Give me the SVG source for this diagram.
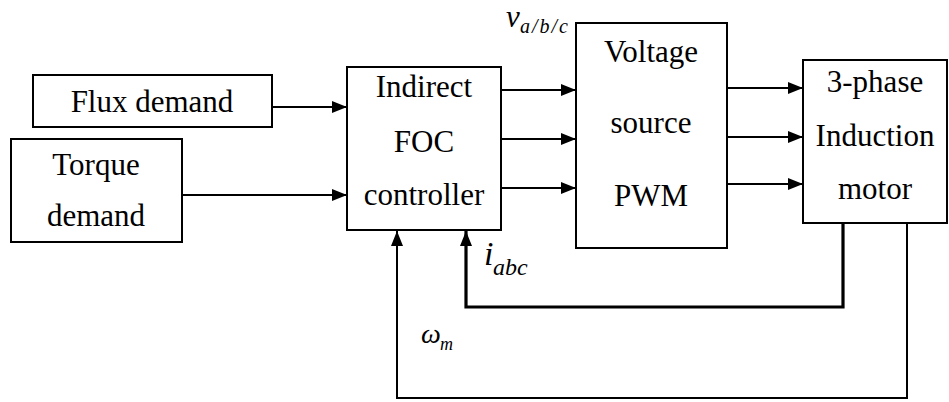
<svg xmlns="http://www.w3.org/2000/svg" width="949" height="402" viewBox="0 0 949 402">
<defs>
<marker id="ah" viewBox="0 0 15 12" refX="15" refY="6" markerWidth="15" markerHeight="12" markerUnits="userSpaceOnUse" orient="auto">
<path d="M0,0 L15,6 L0,12 Z" fill="#000"/>
</marker>
</defs>
<rect width="949" height="402" fill="#fff"/>
<g id="connectors" fill="none" stroke="#000" stroke-width="2">
<line x1="272" y1="107" x2="347" y2="107" marker-end="url(#ah)"/>
<line x1="182" y1="195" x2="347" y2="195" marker-end="url(#ah)"/>
<line x1="501" y1="90" x2="576" y2="90" marker-end="url(#ah)"/>
<line x1="501" y1="139" x2="576" y2="139" marker-end="url(#ah)"/>
<line x1="501" y1="188" x2="576" y2="188" marker-end="url(#ah)"/>
<line x1="727" y1="88" x2="803" y2="88" marker-end="url(#ah)"/>
<line x1="727" y1="137" x2="803" y2="137" marker-end="url(#ah)"/>
<line x1="727" y1="184" x2="803" y2="184" marker-end="url(#ah)"/>
<polyline stroke-width="3.2" points="843,223 843,307 466,307 466,231" marker-end="url(#ah)"/>
<polyline points="907,223 907,398 397,398 397,231" marker-end="url(#ah)"/>
</g>
<g id="flux">
<rect x="33" y="75" width="239" height="52" fill="#fff" stroke="#000" stroke-width="2"/>
<text x="152" y="112" font-family="Liberation Serif" font-size="31" text-anchor="middle">Flux demand</text>
</g>
<g id="torque">
<rect x="11" y="139" width="171" height="103" fill="#fff" stroke="#000" stroke-width="2"/>
<text x="96" y="175" font-family="Liberation Serif" font-size="31" text-anchor="middle">Torque</text>
<text x="96" y="226" font-family="Liberation Serif" font-size="31" text-anchor="middle">demand</text>
</g>
<g id="foc">
<rect x="347" y="67" width="154" height="163" fill="#fff" stroke="#000" stroke-width="2"/>
<text x="424" y="97" font-family="Liberation Serif" font-size="31" text-anchor="middle">Indirect</text>
<text x="424" y="152" font-family="Liberation Serif" font-size="31" text-anchor="middle">FOC</text>
<text x="424" y="205" font-family="Liberation Serif" font-size="31" text-anchor="middle">controller</text>
</g>
<g id="vsi">
<rect x="576" y="23" width="151" height="225" fill="#fff" stroke="#000" stroke-width="2"/>
<text x="651" y="62" font-family="Liberation Serif" font-size="31" text-anchor="middle">Voltage</text>
<text x="651" y="133" font-family="Liberation Serif" font-size="31" text-anchor="middle">source</text>
<text x="651" y="206" font-family="Liberation Serif" font-size="31" text-anchor="middle">PWM</text>
</g>
<g id="motor">
<rect x="803" y="60" width="144" height="163" fill="#fff" stroke="#000" stroke-width="2"/>
<text x="875" y="92" font-family="Liberation Serif" font-size="31" text-anchor="middle">3-phase</text>
<text x="875" y="146" font-family="Liberation Serif" font-size="31" text-anchor="middle">Induction</text>
<text x="875" y="199" font-family="Liberation Serif" font-size="31" text-anchor="middle">motor</text>
</g>
<g id="labels">
<text x="506" y="27" font-family="Liberation Serif" font-style="italic" font-size="31">v</text>
<text x="520" y="33" font-family="Liberation Serif" font-style="italic" font-size="20" letter-spacing="2">a/b/c</text>
<text x="484" y="265" font-family="Liberation Serif" font-style="italic" font-size="34">i</text>
<text x="493" y="275" font-family="Liberation Serif" font-style="italic" font-size="24">abc</text>
<text x="421" y="343" font-family="Liberation Serif" font-style="italic" font-size="28">ω</text>
<text x="440" y="350" font-family="Liberation Serif" font-style="italic" font-size="18">m</text>
</g>
</svg>
